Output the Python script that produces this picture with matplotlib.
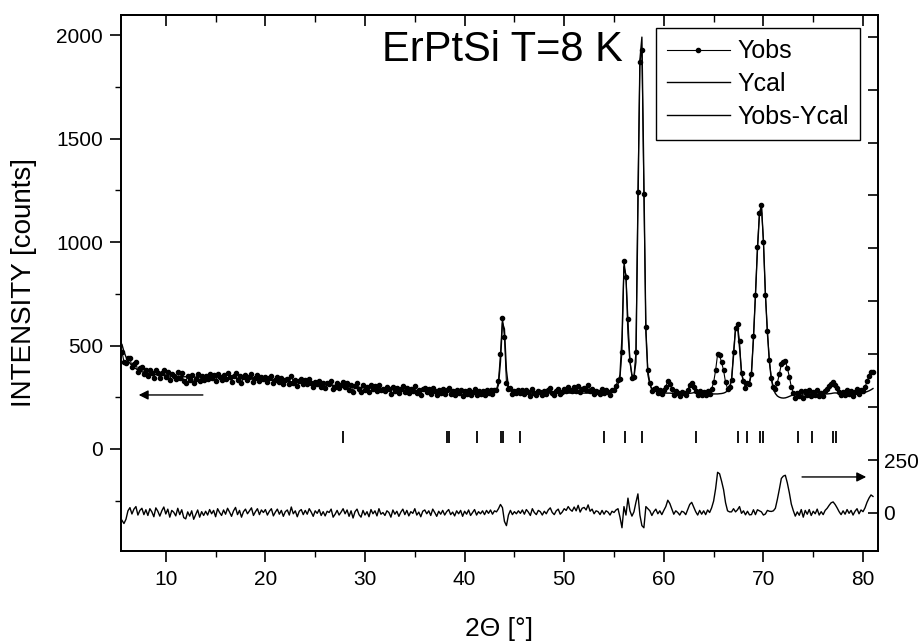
import matplotlib
matplotlib.use("Agg")
import matplotlib.pyplot as plt
from matplotlib.ticker import MultipleLocator, FixedLocator, FixedFormatter
import numpy as np

plt.rcParams["font.family"] = ["Liberation Sans", "DejaVu Sans"]

# 2theta grid of the scan (deg)
two_theta = np.round(np.arange(5.6, 81.0001, 0.2), 1)

y_cal = [
    505, 470,
    445, 428, 414, 403, 395, 388, 382, 377, 373, 370,  # 6
    367, 365, 363, 361, 360, 359, 358, 357, 356, 355,  # 8
    354, 353, 353, 352, 352, 351, 351, 350, 350, 349,  # 10
    349, 349, 348, 348, 348, 347, 347, 347, 346, 346,  # 12
    346, 346, 345, 345, 345, 345, 344, 344, 344, 344,  # 14
    343, 343, 343, 342, 342, 342, 341, 341, 340, 340,  # 16
    339, 339, 338, 338, 337, 337, 336, 336, 335, 335,  # 18
    334, 333, 333, 332, 331, 331, 330, 329, 329, 328,  # 20
    327, 326, 326, 325, 324, 323, 323, 322, 321, 320,  # 22
    319, 319, 318, 317, 316, 315, 315, 314, 313, 312,  # 24
    311, 311, 310, 309, 308, 307, 307, 306, 305, 304,  # 26
    303, 303, 302, 301, 300, 300, 299, 298, 297, 297,  # 28
    296, 295, 295, 294, 293, 293, 292, 291, 291, 290,  # 30
    290, 289, 289, 288, 287, 287, 286, 286, 285, 285,  # 32
    284, 284, 283, 283, 282, 282, 282, 281, 281, 280,  # 34
    280, 279, 279, 279, 278, 278, 278, 277, 277, 277,  # 36
    276, 277, 278, 276, 275, 275, 275, 274, 274, 274,  # 38
    273, 273, 273, 273, 272, 272, 272, 272, 271, 271,  # 40
    271, 271, 271, 271, 271, 273, 280, 310, 420, 610,  # 42
    580, 380, 300, 281, 275, 273, 273, 274, 273, 271,  # 44
    271, 270, 270, 270, 270, 270, 270, 270, 270, 270,  # 46
    270, 270, 270, 270, 270, 270, 270, 270, 270, 270,  # 48
    270, 270, 270, 270, 270, 270, 270, 270, 270, 270,  # 50
    270, 270, 270, 270, 270, 270, 270, 271, 273, 276,  # 52
    278, 274, 272, 273, 276, 282, 292, 312, 360, 540,  # 54
    880, 840, 560, 420, 360, 345, 420, 1150, 1880, 1990,  # 56
    1300, 560, 360, 310, 292, 283, 278, 275, 273, 272,  # 58
    271, 270, 270, 270, 269, 269, 269, 268, 268, 268,  # 60
    268, 268, 268, 269, 270, 272, 272, 270, 268, 267,  # 62
    267, 267, 266, 266, 266, 266, 266, 266, 267, 268,  # 64
    270, 274, 282, 295, 330, 450, 580, 590, 490, 370,  # 66
    320, 305, 310, 325, 370, 530, 750, 960, 1130, 1175,  # 68
    1010, 750, 560, 420, 335, 290, 268, 256, 250, 247,  # 70
    246, 247, 250, 254, 258, 261, 263, 265, 266, 266,  # 72
    266, 266, 267, 267, 266, 266, 266, 266, 266, 266,  # 74
    266, 266, 266, 267, 268, 270, 271, 270, 268, 267,  # 76
    267, 267, 267, 267, 267, 267, 268, 268, 269, 270,  # 78
    272, 274, 277, 281, 286, 292,  # 80
]

y_obs = [
    470, 420,
    415, 438, 439, 398, 413, 418, 372, 389, 395, 362,  # 6
    382, 353, 383, 366, 342, 383, 366, 342, 366, 383,  # 8
    349, 371, 333, 364, 355, 337, 373, 342, 365, 327,  # 10
    321, 354, 333, 358, 318, 339, 361, 327, 352, 334,  # 12
    354, 336, 361, 341, 357, 327, 364, 346, 332, 358,  # 14
    337, 365, 347, 326, 352, 368, 333, 353, 320, 346,  # 16
    357, 335, 348, 362, 325, 343, 356, 328, 349, 337,  # 18
    350, 323, 341, 352, 317, 335, 348, 323, 341, 312,  # 20
    333, 340, 316, 353, 320, 333, 305, 330, 337, 312,  # 22
    331, 313, 338, 321, 300, 325, 313, 330, 301, 318,  # 24
    297, 319, 312, 327, 288, 301, 319, 296, 309, 324,  # 26
    299, 317, 286, 311, 276, 306, 317, 290, 277, 309,  # 28
    286, 301, 277, 310, 289, 303, 278, 311, 285, 292,  # 30
    278, 299, 291, 268, 301, 281, 294, 270, 289, 303,  # 32
    276, 296, 269, 289, 280, 302, 272, 285, 263, 288,  # 34
    294, 275, 289, 267, 296, 280, 262, 285, 271, 289,  # 36
    266, 283, 294, 268, 279, 261, 285, 270, 286, 258,  # 38
    281, 267, 287, 261, 274, 288, 262, 278, 267, 281,  # 40
    263, 283, 269, 285, 265, 283, 285, 330, 460, 635,  # 42
    540, 320, 290, 293, 267, 279, 269, 284, 271, 285,  # 44
    265, 286, 274, 258, 290, 272, 262, 282, 276, 260,  # 46
    278, 266, 284, 294, 272, 262, 280, 288, 264, 274,  # 48
    290, 282, 300, 286, 278, 298, 280, 306, 274, 292,  # 50
    296, 284, 308, 278, 288, 266, 280, 277, 265, 288,  # 52
    272, 284, 276, 263, 284, 284, 306, 332, 340, 470,  # 54
    910, 830, 630, 430, 345, 350, 470, 1240, 1870, 1930,  # 56
    1230, 590, 380, 320, 280, 289, 296, 271, 283, 264,  # 58
    283, 300, 330, 315, 289, 263, 279, 270, 258, 276,  # 60
    272, 260, 284, 309, 320, 300, 278, 260, 280, 261,  # 62
    277, 259, 280, 268, 290, 322, 380, 458, 452, 418,  # 64
    380, 322, 292, 300, 335, 470, 585, 605, 520, 368,  # 66
    330, 296, 318, 316, 362, 545, 742, 975, 1140, 1180,  # 68
    1000, 745, 572, 428, 342, 300, 290, 320, 362, 410,  # 70
    420, 425, 392, 350, 300, 272, 248, 270, 255, 282,  # 72
    246, 278, 261, 283, 254, 274, 262, 284, 256, 272,  # 74
    258, 278, 288, 303, 316, 322, 311, 294, 274, 259,  # 76
    277, 261, 283, 265, 279, 257, 276, 288, 265, 284,  # 78
    278, 298, 327, 351, 371, 370,  # 80
]

# Bragg reflection positions (deg)
bragg_pos = [27.8, 38.2, 38.4, 41.2, 43.7, 43.9, 45.6, 54.0, 56.1, 57.8,
             63.2, 67.4, 68.4, 69.7, 70.0, 73.5, 74.9, 77.0, 77.3]

y_obs = np.array(y_obs, dtype=float)
y_cal = np.array(y_cal, dtype=float)
y_diff = y_obs - y_cal

fig = plt.figure(figsize=(9.2, 6.42), dpi=100)
ax = fig.add_axes([0.1315, 0.1417, 0.8228, 0.835])
ax2 = ax.twinx()

l_obs, = ax.plot(two_theta, y_obs, "-", color="k", lw=0.8,
                 marker="o", ms=3.0, mec="k", mfc="k")
l_cal, = ax.plot(two_theta, y_cal, "-", color="k", lw=1.0)
ax.plot(bragg_pos, np.full(len(bragg_pos), 58.0), ls="none", marker="|",
        ms=8, mew=1.3, color="k")
l_diff, = ax2.plot(two_theta, y_diff, "-", color="k", lw=1.0)

ax.set_xlim(5.5, 81.5)
ax.set_ylim(-493, 2097)
ax2.set_ylim(-180, 2353)

# x axis
ax.xaxis.set_major_locator(MultipleLocator(10))
ax.xaxis.set_minor_locator(MultipleLocator(5))
ax.tick_params(axis="x", which="major", direction="out", length=8, width=1.2,
               labelsize=15, pad=6, top=False)
ax.tick_params(axis="x", which="minor", direction="out", length=4, width=1.0, top=False)
top = ax.secondary_xaxis("top")
top.xaxis.set_major_locator(MultipleLocator(10))
top.xaxis.set_minor_locator(MultipleLocator(5))
top.tick_params(axis="x", which="major", direction="in", length=8, width=1.2, labeltop=False)
top.tick_params(axis="x", which="minor", direction="in", length=5, width=1.0)

# left axis
ax.yaxis.set_major_locator(MultipleLocator(500))
ax.yaxis.set_minor_locator(MultipleLocator(250))
ax.tick_params(axis="y", which="major", direction="out", length=8, width=1.2,
               labelsize=15, pad=5, right=False)
ax.tick_params(axis="y", which="minor", direction="out", length=4, width=1.0, right=False)

# right axis for the difference curve
r_ticks = list(range(0, 2500, 250))
ax2.yaxis.set_major_locator(FixedLocator(r_ticks))
ax2.yaxis.set_major_formatter(FixedFormatter(["0", "250"] + [""] * (len(r_ticks) - 2)))
ax2.tick_params(axis="y", which="major", direction="in", length=7, width=1.2,
                labelsize=15, pad=4)

for a in (ax, ax2):
    for s in a.spines.values():
        s.set_linewidth(1.3)
top.spines["top"].set_linewidth(1.3)

ax.set_xlabel("2Θ [°]", fontsize=19, labelpad=20)
ax.set_ylabel("INTENSITY [counts]", fontsize=20, labelpad=14)

ax.text(0.345, 0.935, "ErPtSi T=8 K", transform=ax.transAxes, fontsize=30,
        ha="left", va="center")

# axis arrows
ax.annotate("", xy=(7.0, 261), xytext=(14.0, 261),
            arrowprops=dict(arrowstyle="-|>", color="k", lw=1.0, mutation_scale=14))
ax2.annotate("", xy=(80.6, 170), xytext=(73.6, 170),
             arrowprops=dict(arrowstyle="-|>", color="k", lw=1.0, mutation_scale=14))

leg = fig.legend([l_obs, l_cal, l_diff], ["Yobs", "Ycal", "Yobs-Ycal"],
                 loc="upper left", bbox_to_anchor=(656 / 920, 1 - 28 / 642),
                 borderaxespad=0.0, fontsize=18, numpoints=1, handlelength=2.5,
                 handletextpad=0.3, labelspacing=0.35, borderpad=0.45,
                 fancybox=False, framealpha=1)
leg.get_frame().set_edgecolor("k")
leg.get_frame().set_linewidth(1.0)

fig.savefig("out.png", dpi=100)
